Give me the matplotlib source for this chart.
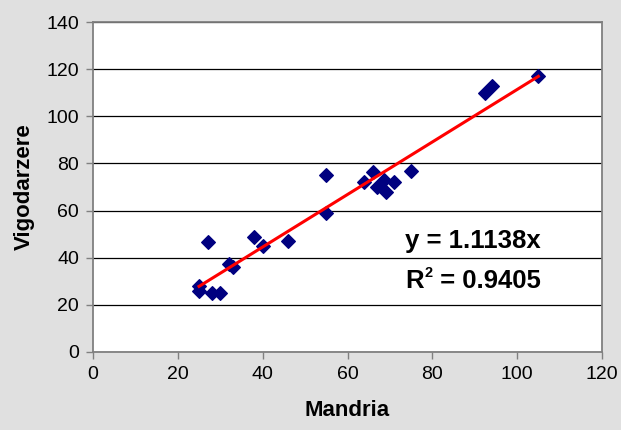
import matplotlib
matplotlib.use('Agg')
import matplotlib.pyplot as plt
import numpy as np

plt.rcParams['font.family'] = ['Liberation Sans', 'DejaVu Sans']

# points
mandria = [25, 25, 27, 28, 30, 32, 33, 38, 40, 46, 55, 55,
           64, 66, 67, 68.5, 69, 71, 75, 92.5, 94, 105]
vigodarzere = [28, 26, 46.5, 25, 25, 37.5, 36, 49, 45, 47, 75, 59,
               72, 76.5, 70, 73, 68, 72, 77, 110, 113, 117]
slope = 1.1138
r2 = 0.9405

fig = plt.figure(figsize=(6.21, 4.30), dpi=100)
fig.patch.set_facecolor('#e0e0e0')
ax = fig.add_axes([0.1498, 0.1814, 0.8196, 0.7674])
ax.set_facecolor('white')

ax.set_xlim(0, 120)
ax.set_ylim(0, 140)
ax.set_xticks(range(0, 121, 20))
ax.set_yticks(range(0, 141, 20))

# horizontal gridlines only
ax.grid(axis='y', color='black', linewidth=0.9)
ax.set_axisbelow(True)
for s in ax.spines.values():
    s.set_color('#808080')
    s.set_linewidth(1.3)
ax.tick_params(direction='out', length=5, width=1, color='#808080',
               labelsize=14, pad=5)

ax.scatter(mandria, vigodarzere, marker='D', s=48, color='#000080', zorder=3)

# trendline through the origin
xt = np.array([min(mandria), max(mandria)])
ax.plot(xt, slope * xt, color='#ff0000', linewidth=2.2, zorder=4)

ax.text(73.5, 47, f'y = {slope}x', fontsize=18.5, fontweight='bold', va='center')

# R^2 label built from pieces so the superscript stays small
t_r = ax.text(73.5, 30, 'R', fontsize=18.5, fontweight='bold', va='center')
t_sup = ax.annotate('2', xy=(1, 1), xycoords=t_r, xytext=(1, 2.5),
                    textcoords='offset points', ha='left', va='top',
                    fontsize=10.5, fontweight='bold')
ax.annotate(f' = {r2}', xy=(1, 0.5), xycoords=(t_sup, t_r), xytext=(0, 0),
            textcoords='offset points', ha='left', va='center',
            fontsize=18.5, fontweight='bold')

ax.set_xlabel('Mandria', fontsize=16, fontweight='bold', labelpad=12)
ax.set_ylabel('Vigodarzere', fontsize=16, fontweight='bold', labelpad=8)

fig.savefig('out.png', dpi=100, facecolor=fig.get_facecolor())
